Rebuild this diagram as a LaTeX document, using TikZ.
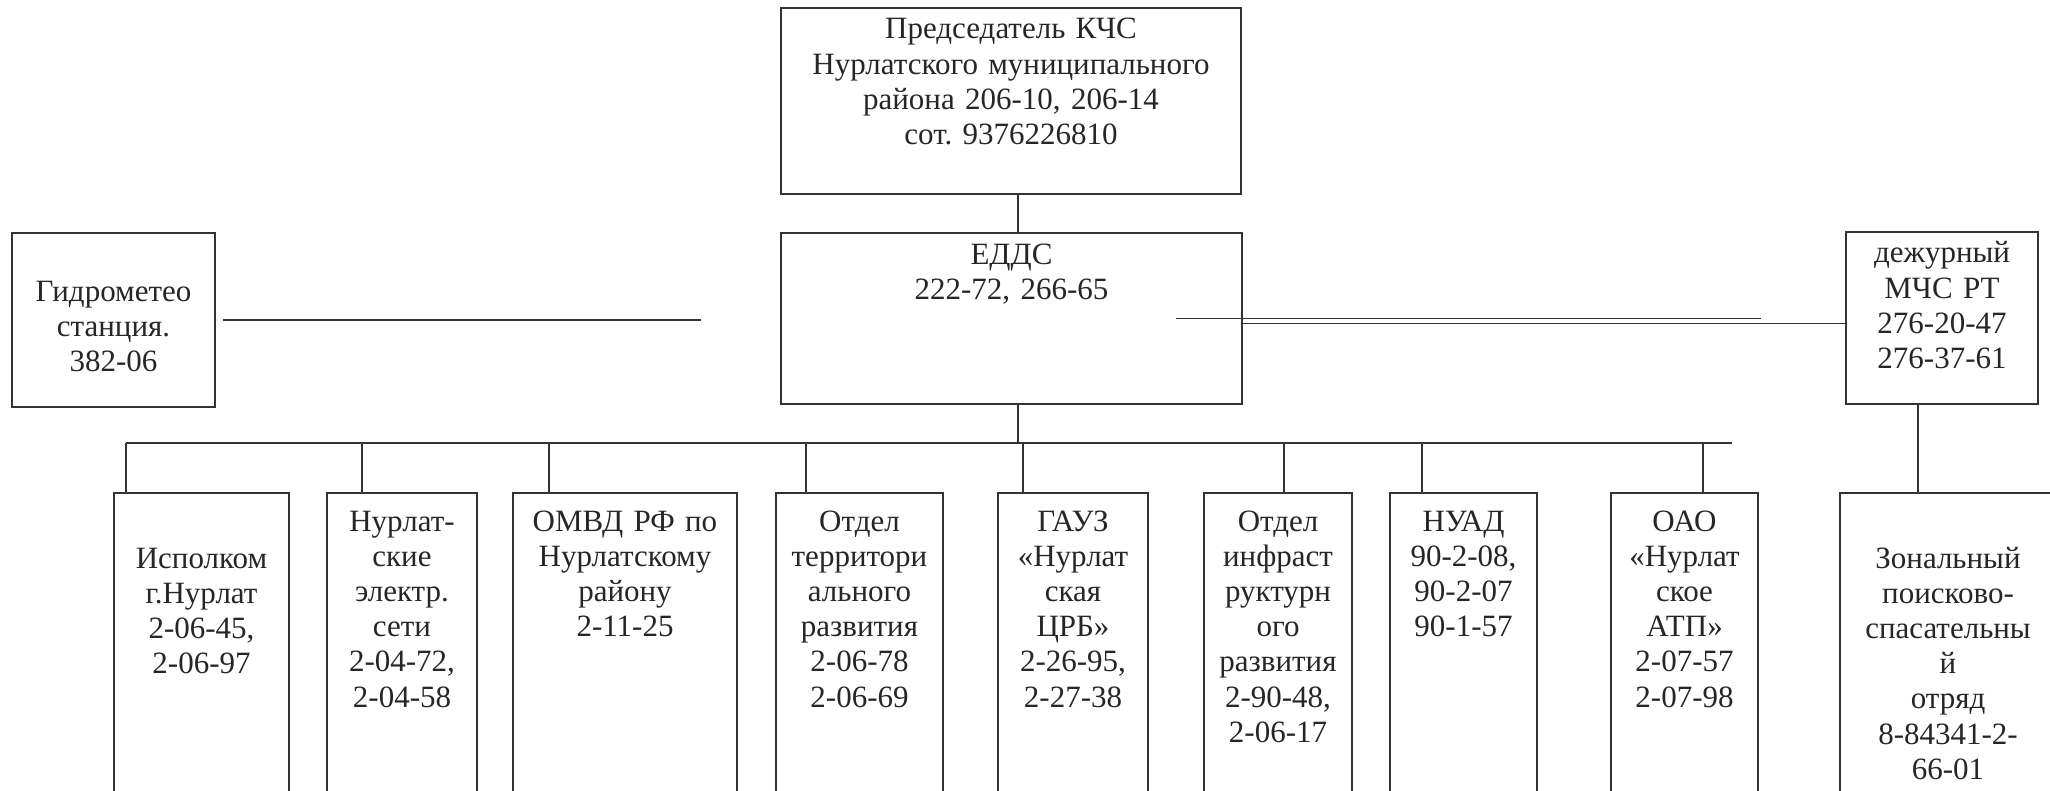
\documentclass[tikz,border=0pt]{standalone}
\usepackage{fontspec}
\setmainfont{Liberation Serif}
\usepackage{xcolor}

\begin{document}
\begin{tikzpicture}
[every node/.style={inner sep=0pt},
 box/.style={draw=black!80, line width=1pt, anchor=north, align=center, text=black!85, font=\fontsize{15.5pt}{17.6pt}\selectfont\frenchspacing},
 low/.style={box, text height=19pt, text depth=135pt},
 link/.style={line width=0.9pt, color=black!80}]
\useasboundingbox (0pt,0pt) rectangle (1025pt,-395.5pt);
\clip (0pt,0pt) rectangle (1025pt,-395.5pt);
\node (1) [box, text width=230pt, text height=15.5pt, text depth=77.5pt] at (505.5pt, -3.5pt) {Председатель КЧС\\Нурлатского муниципального\\района 206-10, 206-14\\сот. 9376226810};
\node (2) [box, text width=230.5pt, text height=15.5pt, text depth=70pt] at (505.75pt, -116pt) {ЕДДС\\222-72, 266-65};
\node (3) [box, text width=101.5pt, text height=34pt, text depth=53pt] at (56.75pt, -116pt) {Гидрометео\\станция.\\382-06};
\node (4) [box, text width=96pt, text height=15.5pt, text depth=70.5pt] at (971pt, -115.5pt) {дежурный\\МЧС РТ\\276-20-47\\276-37-61};
\node (5) [low, text width=87.5pt, text height=37.5pt, text depth=116.5pt] at (100.75pt, -246pt) {Исполком\\г.Нурлат\\2-06-45,\\2-06-97};
\node (6) [low, text width=75pt] at (201pt, -246pt) {Нурлат-\\ские\\электр.\\сети\\2-04-72,\\2-04-58};
\node (7) [low, text width=112pt] at (312.5pt, -246pt) {ОМВД РФ по\\Нурлатскому\\району\\2-11-25};
\node (8) [low, text width=83.5pt] at (429.75pt, -246pt) {Отдел\\территори\\ального\\развития\\2-06-78\\2-06-69};
\node (9) [low, text width=75pt] at (536.5pt, -246pt) {ГАУЗ\\«Нурлат\\ская\\ЦРБ»\\2-26-95,\\2-27-38};
\node (10) [low, text width=74pt] at (639pt, -246pt) {Отдел\\инфраст\\руктурн\\ого\\развития\\2-90-48,\\2-06-17};
\node (11) [low, text width=73.5pt] at (731.75pt, -246pt) {НУАД\\90-2-08,\\90-2-07\\90-1-57};
\node (12) [low, text width=73.5pt] at (842.25pt, -246pt) {ОАО\\«Нурлат\\ское\\АТП»\\2-07-57\\2-07-98};
\node (13) [low, text width=108pt, text height=37.5pt, text depth=116.5pt] at (974pt, -246pt) {Зональный\\поисково-\\спасательны\\й\\отряд\\8-84341-2-\\66-01};
\coordinate (j0) at (509pt, -221.5pt);
\coordinate (j5) at (63pt, -221.5pt);
\coordinate (j6) at (181pt, -221.5pt);
\coordinate (j7) at (274.5pt, -221.5pt);
\coordinate (j8) at (403pt, -221.5pt);
\coordinate (j9) at (511.5pt, -221.5pt);
\coordinate (j10) at (642pt, -221.5pt);
\coordinate (j11) at (711pt, -221.5pt);
\coordinate (j12) at (851.5pt, -221.5pt);
\coordinate (jend) at (866pt, -221.5pt);
\coordinate (k) at (959pt, -221.5pt);
\draw [link] (1.south -| j0) to (2.north -| j0);
\draw [link] (2.south -| j0) to (j0);
\draw [link] (j5) to (jend);
\draw [link] (j5) to (5.north -| j5);
\draw [link] (j6) to (6.north -| j6);
\draw [link] (j7) to (7.north -| j7);
\draw [link] (j8) to (8.north -| j8);
\draw [link] (j9) to (9.north -| j9);
\draw [link] (j10) to (10.north -| j10);
\draw [link] (j11) to (11.north -| j11);
\draw [link] (j12) to (12.north -| j12);
\draw [link] (4.south -| k) to (13.north -| k);
\draw [link] ([xshift=3.5pt]3.east) to ([xshift=-39.5pt]2.west |- 3.east);
\draw [link] ([xshift=-33.5pt]2.east) to ([xshift=-42pt]4.west |- 2.east);
\draw [link] ([yshift=-2.5pt]2.east) to ([yshift=-2.5pt]2.east -| 4.west);
\end{tikzpicture}
\end{document}
